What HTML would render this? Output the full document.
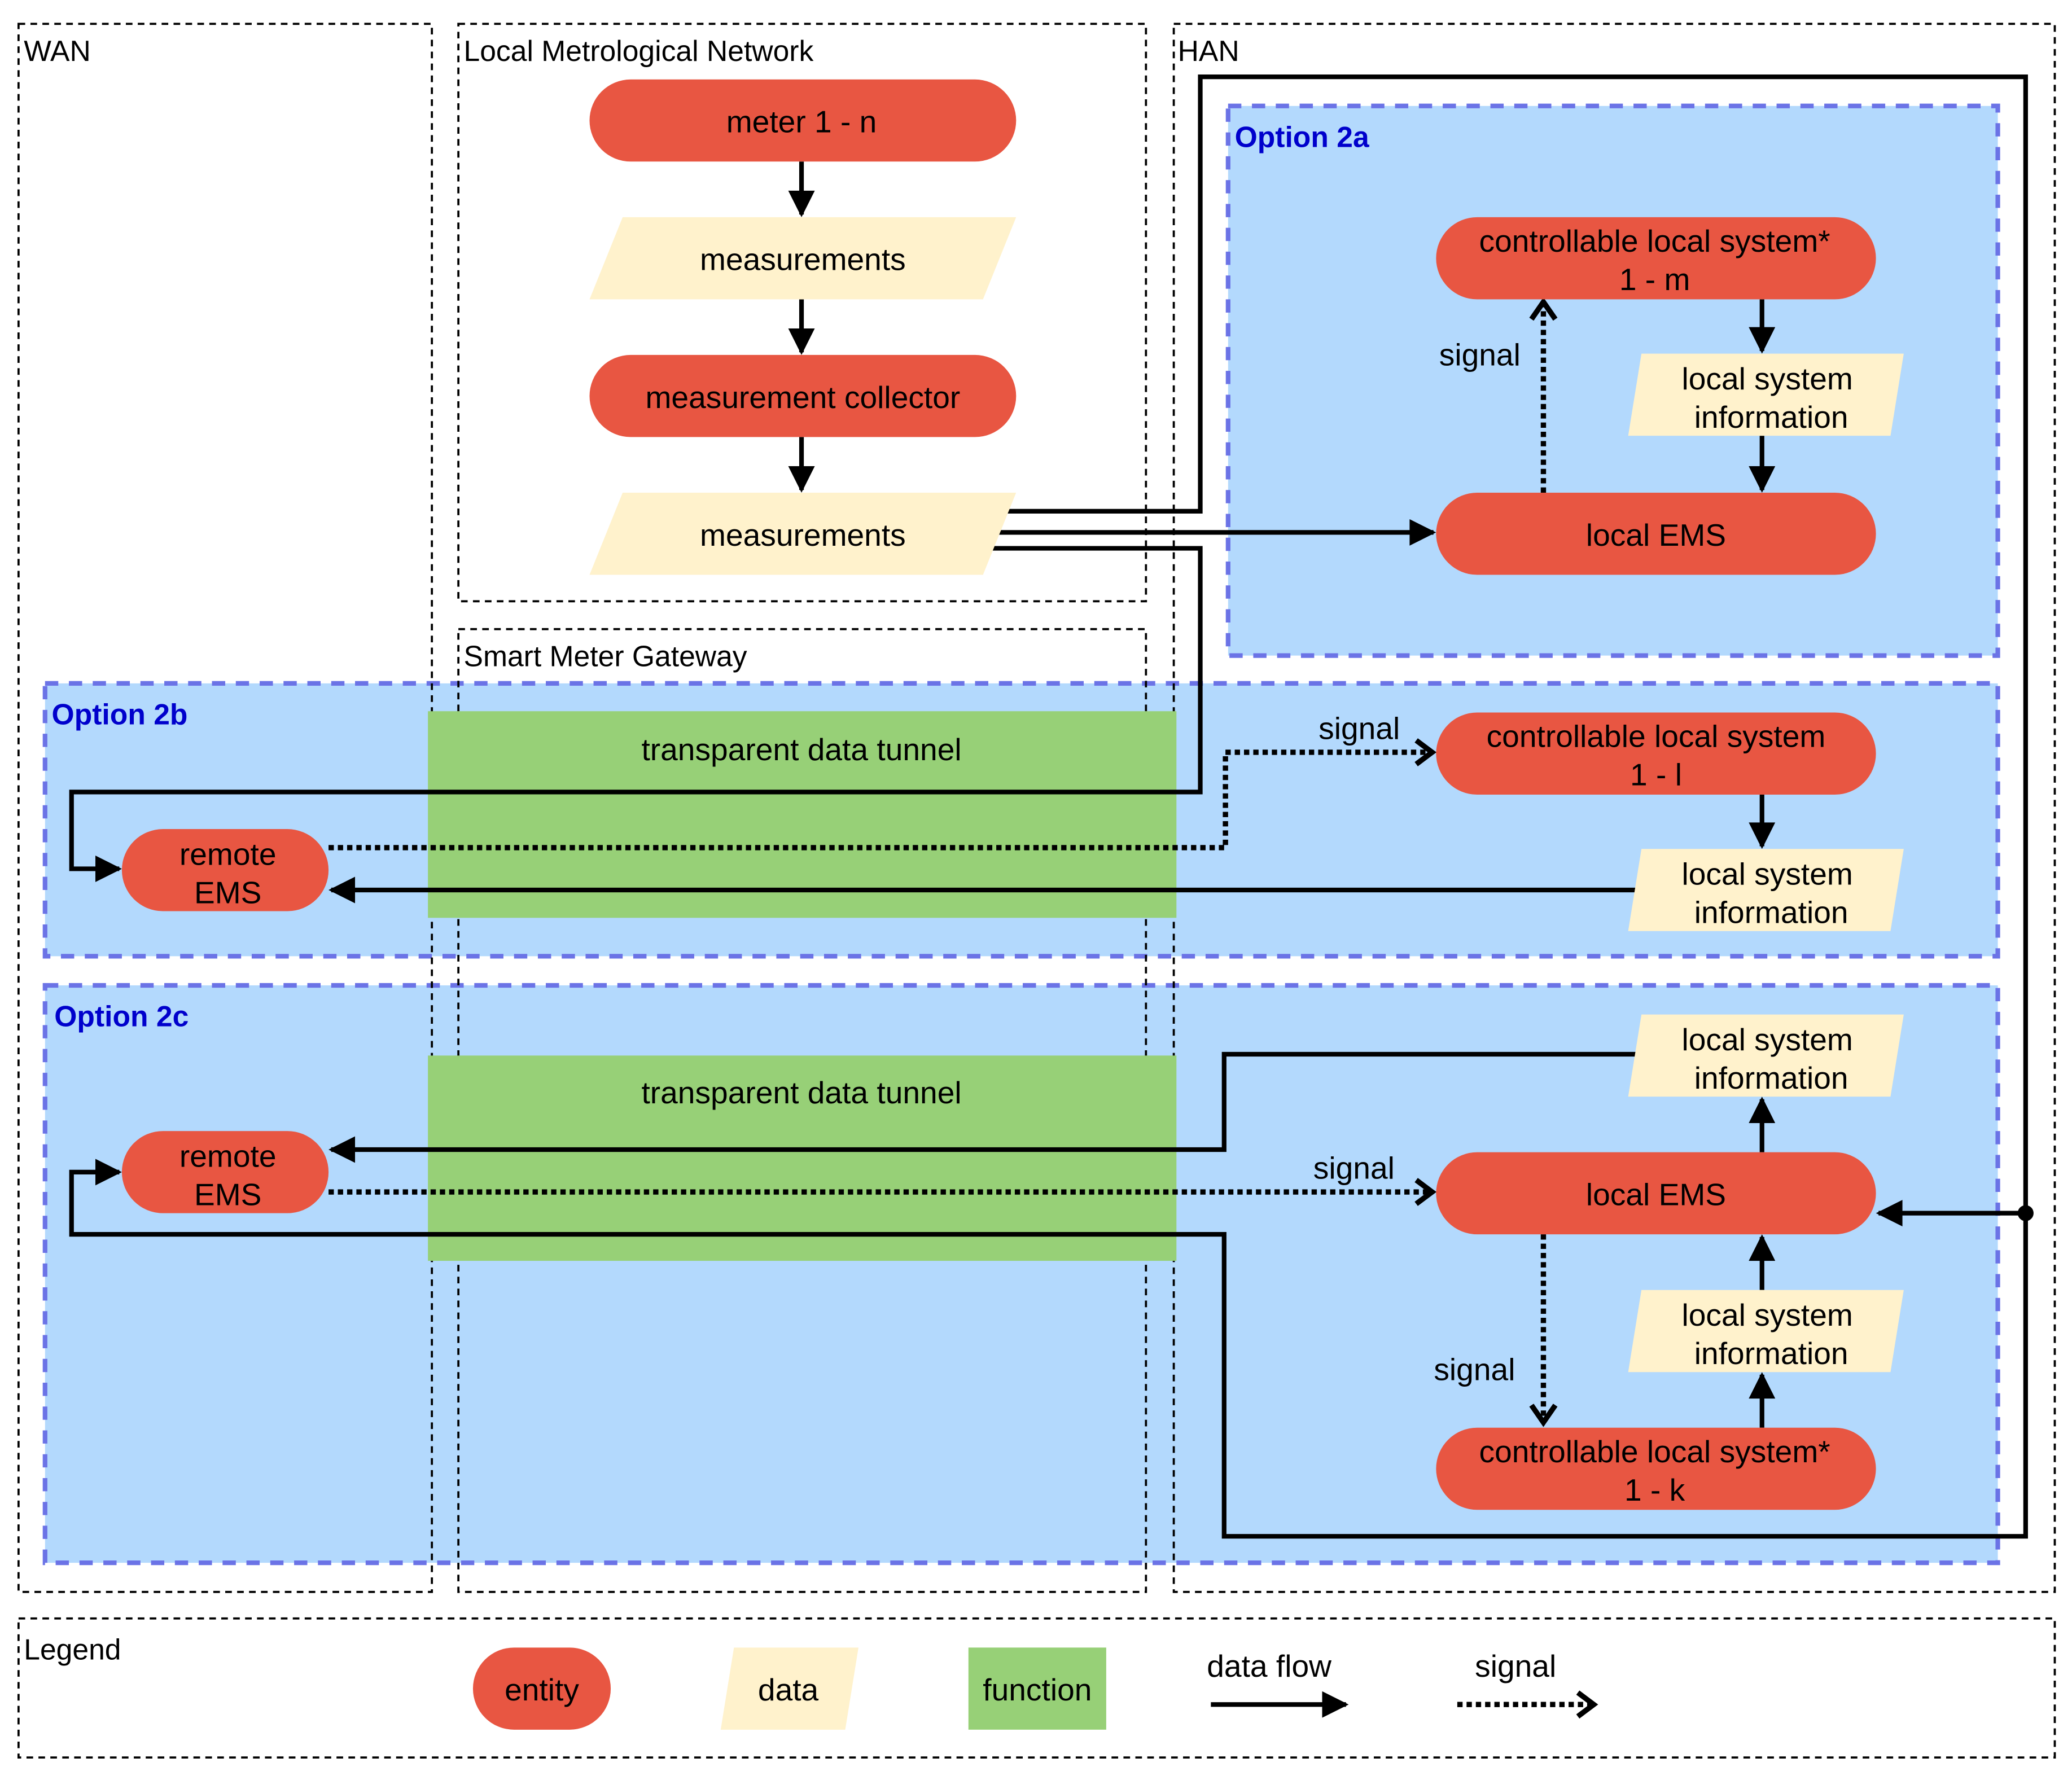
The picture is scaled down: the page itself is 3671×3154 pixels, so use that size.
<!DOCTYPE html>
<html><head><meta charset="utf-8"><style>html,body{margin:0;padding:0;background:#fff}svg{display:block}</style></head>
<body>
<svg width="3671" height="3154" viewBox="0 0 1564 1344" preserveAspectRatio="none" xmlns="http://www.w3.org/2000/svg" font-family="Liberation Sans, sans-serif">
<defs>
<marker id="a" viewBox="0 0 10 10" refX="9" refY="5" markerWidth="22" markerHeight="20" orient="auto" markerUnits="userSpaceOnUse"><path d="M0,0L10,5L0,10z"/></marker>
</defs>
<g fill="#b3d9fd" stroke="#6b73e6" stroke-width="3.5" stroke-dasharray="10 8">
<rect x="927" y="80" width="581" height="415"/>
<rect x="34" y="516" width="1474" height="206"/>
<rect x="34" y="744" width="1474" height="436"/>
</g>
<g fill="none" stroke="#000" stroke-width="1.6" stroke-dasharray="5 4">
<rect x="14" y="18" width="312" height="1184"/>
<rect x="346" y="18" width="519" height="436"/>
<rect x="346" y="475" width="519" height="727"/>
<rect x="886" y="18" width="665" height="1184"/>
<rect x="14" y="1222" width="1537" height="105"/>
</g>
<g font-size="22" fill="#000">
<text x="18" y="46">WAN</text><text x="350" y="46">Local Metrological Network</text>
<text x="350" y="503">Smart Meter Gateway</text><text x="889" y="46">HAN</text>
<text x="18" y="1253">Legend</text>
</g>
<g font-size="22" font-weight="bold" fill="#0000cc">
<text x="932" y="111">Option 2a</text><text x="39" y="547">Option 2b</text><text x="41" y="775">Option 2c</text>
</g>
<rect x="323" y="537" width="565" height="156" fill="#97d077"/>
<rect x="323" y="797" width="565" height="155" fill="#97d077"/>
<g fill="none" stroke="#000" stroke-width="3.5">
<polyline points="757,386 906,386 906,58 1529,58 1529,1160 924,1160 924,932 54,932 54,885 90,885" marker-end="url(#a)"/>
<polyline points="1529,916 1418,916" marker-end="url(#a)"/>
<polyline points="750,402 1082,402" marker-end="url(#a)"/>
<polyline points="745,414 906,414 906,598 54,598 54,656 90,656" marker-end="url(#a)"/>
<polyline points="1240,672 250,672" marker-end="url(#a)"/>
<polyline points="1240,796 924,796 924,868 250,868" marker-end="url(#a)"/>
<line x1="605" y1="122" x2="605" y2="162" marker-end="url(#a)"/>
<line x1="605" y1="226" x2="605" y2="266" marker-end="url(#a)"/>
<line x1="605" y1="330" x2="605" y2="370" marker-end="url(#a)"/>
<line x1="1330" y1="226" x2="1330" y2="265" marker-end="url(#a)"/>
<line x1="1330" y1="329" x2="1330" y2="370" marker-end="url(#a)"/>
<line x1="1330" y1="600" x2="1330" y2="639" marker-end="url(#a)"/>
<line x1="1330" y1="870" x2="1330" y2="830" marker-end="url(#a)"/>
<line x1="1330" y1="974" x2="1330" y2="934" marker-end="url(#a)"/>
<line x1="1330" y1="1078" x2="1330" y2="1038" marker-end="url(#a)"/>
<line x1="914" y1="1287" x2="1016" y2="1287" marker-end="url(#a)"/>
</g>
<circle cx="1529" cy="916" r="6"/>
<g fill="none" stroke="#000" stroke-width="4" stroke-dasharray="4 3">
<polyline points="1165,372 1165,230"/>
<polyline points="248,640 925,640 925,568 1078,568"/>
<polyline points="248,900 1078,900"/>
<polyline points="1165,932 1165,1072"/>
<polyline points="1100,1287 1200,1287"/>
</g>
<g fill="none" stroke="#000" stroke-width="4">
<polyline points="1156,241 1165,228 1174,241"/>
<polyline points="1069,559 1081,568 1069,577"/>
<polyline points="1069,891 1081,900 1069,909"/>
<polyline points="1156,1061 1165,1074 1174,1061"/>
<polyline points="1191,1278 1203,1287 1191,1296"/>
</g>
<g fill="#e85642">
<rect x="445" y="60" width="322" height="62" rx="31"/>
<rect x="445" y="268" width="322" height="62" rx="31"/>
<rect x="1084" y="164" width="332" height="62" rx="31"/>
<rect x="1084" y="372" width="332" height="62" rx="31"/>
<rect x="1084" y="538" width="332" height="62" rx="31"/>
<rect x="1084" y="870" width="332" height="62" rx="31"/>
<rect x="1084" y="1078" width="332" height="62" rx="31"/>
<rect x="92" y="626" width="156" height="62" rx="31"/>
<rect x="92" y="854" width="156" height="62" rx="31"/>
<rect x="357" y="1244" width="104" height="62" rx="31"/>
</g>
<g fill="#fff2cc">
<polygon points="470,164 767,164 742,226 445,226"/>
<polygon points="470,372 767,372 742,434 445,434"/>
<polygon points="1239,267 1437,267 1427,329 1229,329"/>
<polygon points="1239,641 1437,641 1427,703 1229,703"/>
<polygon points="1239,766 1437,766 1427,828 1229,828"/>
<polygon points="1239,974 1437,974 1427,1036 1229,1036"/>
<polygon points="554,1244 648,1244 638,1306 544,1306"/>
</g>
<rect x="731" y="1244" width="104" height="62" fill="#97d077"/>
<g font-size="23.5" fill="#000" text-anchor="middle">
<text x="605" y="100">meter 1 - n</text>
<text x="606" y="204">measurements</text>
<text x="606" y="308">measurement collector</text>
<text x="606" y="412">measurements</text>
<text x="1249" y="190">controllable local system*</text><text x="1249" y="219">1 - m</text>
<text x="1334" y="294">local system</text><text x="1337" y="323">information</text>
<text x="1250" y="412">local EMS</text>
<text x="1117" y="276">signal</text>
<text x="605" y="574">transparent data tunnel</text>
<text x="605" y="833">transparent data tunnel</text>
<text x="1026" y="558">signal</text>
<text x="1250" y="564">controllable local system</text><text x="1250" y="593">1 - l</text>
<text x="1334" y="668">local system</text><text x="1337" y="697">information</text>
<text x="172" y="653">remote</text><text x="172" y="682">EMS</text>
<text x="1334" y="793">local system</text><text x="1337" y="822">information</text>
<text x="1250" y="910">local EMS</text>
<text x="1022" y="890">signal</text>
<text x="172" y="881">remote</text><text x="172" y="910">EMS</text>
<text x="1334" y="1001">local system</text><text x="1337" y="1030">information</text>
<text x="1113" y="1042">signal</text>
<text x="1249" y="1104">controllable local system*</text><text x="1249" y="1133">1 - k</text>
<text x="409" y="1284">entity</text>
<text x="595" y="1284">data</text>
<text x="783" y="1284">function</text>
<text x="958" y="1266">data flow</text>
<text x="1144" y="1266">signal</text>
</g>
</svg>
</body></html>
